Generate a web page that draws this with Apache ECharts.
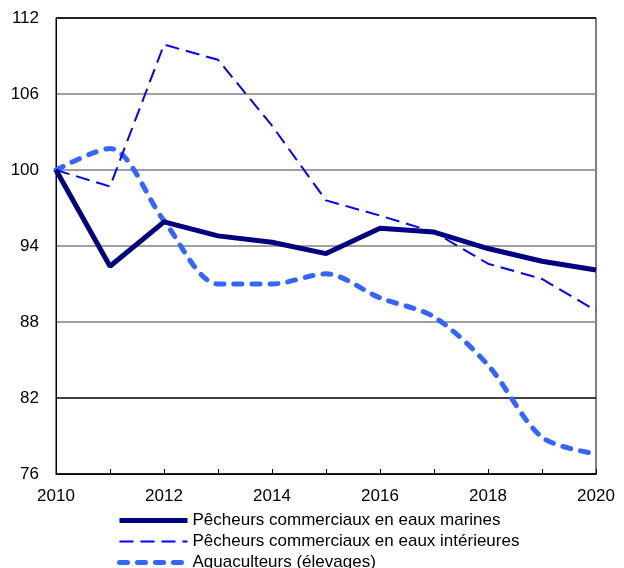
<!DOCTYPE html>
<html>
<head>
<meta charset="utf-8">
<script src="https://cdn.jsdelivr.net/npm/echarts@6/dist/echarts.min.js"></script>
<style>
  html, body { margin: 0; padding: 0; background: #fff; }
  #chart { width: 624px; height: 568px; }
</style>
</head>
<body>
<div id="chart"></div>
<script>
// années
const years = ['2010', '2011', '2012', '2013', '2014', '2015', '2016', '2017', '2018', '2019', '2020'];

// indices (2010 = 100)
const marins = [100, 92.4, 95.9, 94.8, 94.3, 93.4, 95.4, 95.1, 93.8, 92.8, 92.1];
const interieurs = [100, 98.7, 109.9, 108.7, 103.5, 97.6, 96.4, 95.1, 92.6, 91.4, 88.9];
const aquaculteurs = [100, 101.7, 96.0, 91.0, 91.0, 91.8, 89.9, 88.4, 84.6, 78.9, 77.6];

const names = [
  'Pêcheurs commerciaux en eaux marines',
  'Pêcheurs commerciaux en eaux intérieures',
  'Aquaculteurs (élevages)'
];

const font = 'Arial, "Liberation Sans", sans-serif';

const chart = echarts.init(document.getElementById('chart'));

const option = {
  animation: false,
  textStyle: { fontFamily: font },
  grid: {
    left: 56,
    right: 28,
    top: 18,
    bottom: 94,
    show: true,
    borderColor: '#000',
    borderWidth: 1
  },
  legend: {
    orient: 'vertical',
    left: 117,
    top: 512,
    height: 70,
    padding: 0,
    itemWidth: 68,
    itemHeight: 14,
    itemGap: 4,
    itemStyle: { opacity: 0 },
    lineStyle: { width: 'inherit' },
    textStyle: { fontSize: 17, lineHeight: 17, color: '#000', fontFamily: font },
    data: names
  },
  xAxis: {
    type: 'category',
    data: years,
    boundaryGap: false,
    axisLine: { lineStyle: { color: '#000', width: 1 } },
    axisTick: { inside: true, length: 5, interval: 0, lineStyle: { color: '#000' } },
    axisLabel: { interval: 1, fontSize: 17, color: '#000', margin: 14, fontFamily: font },
    splitLine: { show: false }
  },
  yAxis: {
    type: 'value',
    min: 76,
    max: 112,
    interval: 6,
    axisLine: { show: true, lineStyle: { color: '#000', width: 1 } },
    axisTick: { show: false },
    axisLabel: { fontSize: 17, color: '#000', margin: 17, fontFamily: font },
    splitLine: {
      lineStyle: {
        color: ['#000', '#000', '#808080', '#808080', '#808080', '#808080', '#000'],
        width: 1.5
      }
    }
  },
  series: [
    {
      name: names[0],
      type: 'line',
      data: marins,
      symbol: 'none',
      lineStyle: { color: '#000080', width: 5 },
      itemStyle: { color: '#000080' },
      z: 4
    },
    {
      name: names[1],
      type: 'line',
      data: interieurs,
      symbol: 'none',
      lineStyle: { color: '#0000FF', width: 2, type: [14, 7] },
      itemStyle: { color: '#0000FF' },
      z: 3
    },
    {
      name: names[2],
      type: 'line',
      data: aquaculteurs,
      symbol: 'none',
      smooth: 0.3,
      lineStyle: { color: '#3366FF', width: 5, type: [8, 10], cap: 'round' },
      itemStyle: { color: '#3366FF' },
      z: 2
    }
  ]
};

chart.setOption(option);
</script>
</body>
</html>
